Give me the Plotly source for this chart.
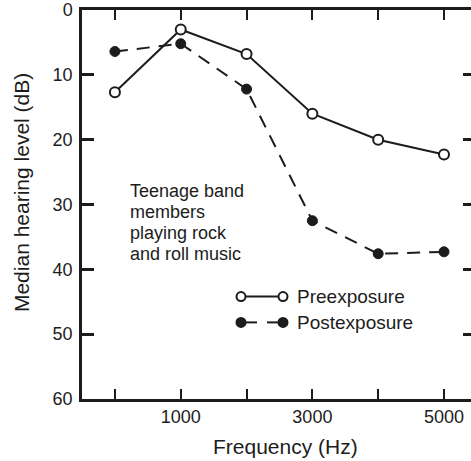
import plotly.graph_objects as go

# ---- data ----
frequency_hz = [0, 1000, 2000, 3000, 4000, 5000]
pre_exposure_db = [12.7, 3.0, 6.8, 16.0, 20.0, 22.3]
post_exposure_db = [6.4, 5.2, 12.2, 32.5, 37.6, 37.3]
x_tickvals = [0, 1000, 2000, 3000, 4000, 5000]
x_ticktext = ["", "1000", "", "3000", "", "5000"]
y_tickvals = [0, 10, 20, 30, 40, 50, 60]
y_ticktext = ["0", "10", "20", "30", "40", "50", "60"]
note_lines = ["Teenage band", "members", "playing rock", "and roll music"]
series_names = ["Preexposure", "Postexposure"]

INK = "#1c1c1c"
FONT = "Liberation Sans, Arial, Helvetica, sans-serif"

W, H = 471, 461
ML, MR, MT, MB = 82, 0, 8, 62
PW, PH = W - ML - MR, H - MT - MB


def px_x(p):
    return (p - ML) / PW


def px_y(p):
    return (H - MB - p) / PH


fig = go.Figure()

fig.add_trace(go.Scatter(
    x=frequency_hz, y=pre_exposure_db, name=series_names[0],
    mode="lines+markers",
    line=dict(color=INK, width=2),
    marker=dict(symbol="circle", size=10, color="white", line=dict(color=INK, width=2)),
    showlegend=False,
))
fig.add_trace(go.Scatter(
    x=frequency_hz, y=post_exposure_db, name=series_names[1],
    mode="lines+markers",
    line=dict(color=INK, width=2, dash="13px,9px"),
    marker=dict(symbol="circle", size=10, color=INK, line=dict(color=INK, width=1)),
    showlegend=False,
))
# invisible trace to host right-side ticks
fig.add_trace(go.Scatter(x=[frequency_hz[0]], y=[pre_exposure_db[0]], yaxis="y2",
                         mode="markers", marker=dict(opacity=0), showlegend=False,
                         hoverinfo="skip"))

fig.update_layout(
    width=W, height=H,
    margin=dict(l=ML, r=MR, t=MT, b=MB),
    paper_bgcolor="white", plot_bgcolor="white",
    font=dict(family=FONT, size=18, color=INK),
    xaxis=dict(
        range=[-500, 5410], tickvals=x_tickvals, ticktext=x_ticktext,
        ticks="inside", ticklen=10, tickwidth=2, tickcolor=INK,
        showline=True, linewidth=2.5, linecolor=INK, mirror="ticks",
        showgrid=False, zeroline=False,
        tickfont=dict(size=18, color=INK),
    ),
    yaxis=dict(
        range=[60, 0], tickvals=y_tickvals, ticktext=y_ticktext,
        ticks="inside", ticklen=12, tickwidth=2.5, tickcolor=INK,
        showline=True, linewidth=2.5, linecolor=INK,
        showgrid=False, zeroline=False, ticklabelstandoff=3,
        ticklabeloverflow="allow",
        tickfont=dict(size=18, color=INK),
    ),
    yaxis2=dict(
        range=[60, 0], tickvals=y_tickvals[1:-1], overlaying="y", side="right",
        ticks="inside", ticklen=8, tickwidth=2.5, tickcolor=INK,
        showticklabels=False, showline=False, showgrid=False, zeroline=False,
    ),
)

# axis titles
fig.add_annotation(text="Frequency (Hz)", xref="paper", yref="paper",
                   x=px_x(285), y=px_y(447), showarrow=False,
                   xanchor="center", yanchor="middle", font=dict(size=21))
fig.add_annotation(text="Median hearing level (dB)", xref="paper", yref="paper",
                   x=px_x(21), y=px_y(192), showarrow=False, textangle=-90,
                   xanchor="center", yanchor="middle", font=dict(size=21))

# note text
for i, line in enumerate(note_lines):
    fig.add_annotation(text=line, xref="paper", yref="paper",
                       x=px_x(128), y=px_y(190 + 21 * i), showarrow=False,
                       xanchor="left", yanchor="middle", font=dict(size=18))

# custom legend
legend_rows = [(296, False), (322, True)]
for (yy, filled), name in zip(legend_rows, series_names):
    yp = px_y(yy)
    if filled:
        for xa, xb in [(244, 257), (267, 280)]:
            fig.add_shape(type="line", xref="paper", yref="paper",
                          x0=px_x(xa), x1=px_x(xb), y0=yp, y1=yp,
                          line=dict(color=INK, width=2))
    else:
        fig.add_shape(type="line", xref="paper", yref="paper",
                      x0=px_x(241), x1=px_x(283), y0=yp, y1=yp,
                      line=dict(color=INK, width=2))
    for xc in (241, 283):
        fig.add_shape(type="circle", xref="paper", yref="paper",
                      xsizemode="pixel", ysizemode="pixel",
                      xanchor=px_x(xc), yanchor=yp,
                      x0=-4.5, x1=4.5, y0=-4.5, y1=4.5,
                      fillcolor=INK if filled else "white",
                      line=dict(color=INK, width=2))
    fig.add_annotation(text=name, xref="paper", yref="paper",
                       x=px_x(295), y=yp, showarrow=False,
                       xanchor="left", yanchor="middle", font=dict(size=19))

fig.write_html(
    "out.html",
    config={"displayModeBar": False},
    post_script="document.body.style.margin='0';document.body.style.overflow='hidden';",
)
